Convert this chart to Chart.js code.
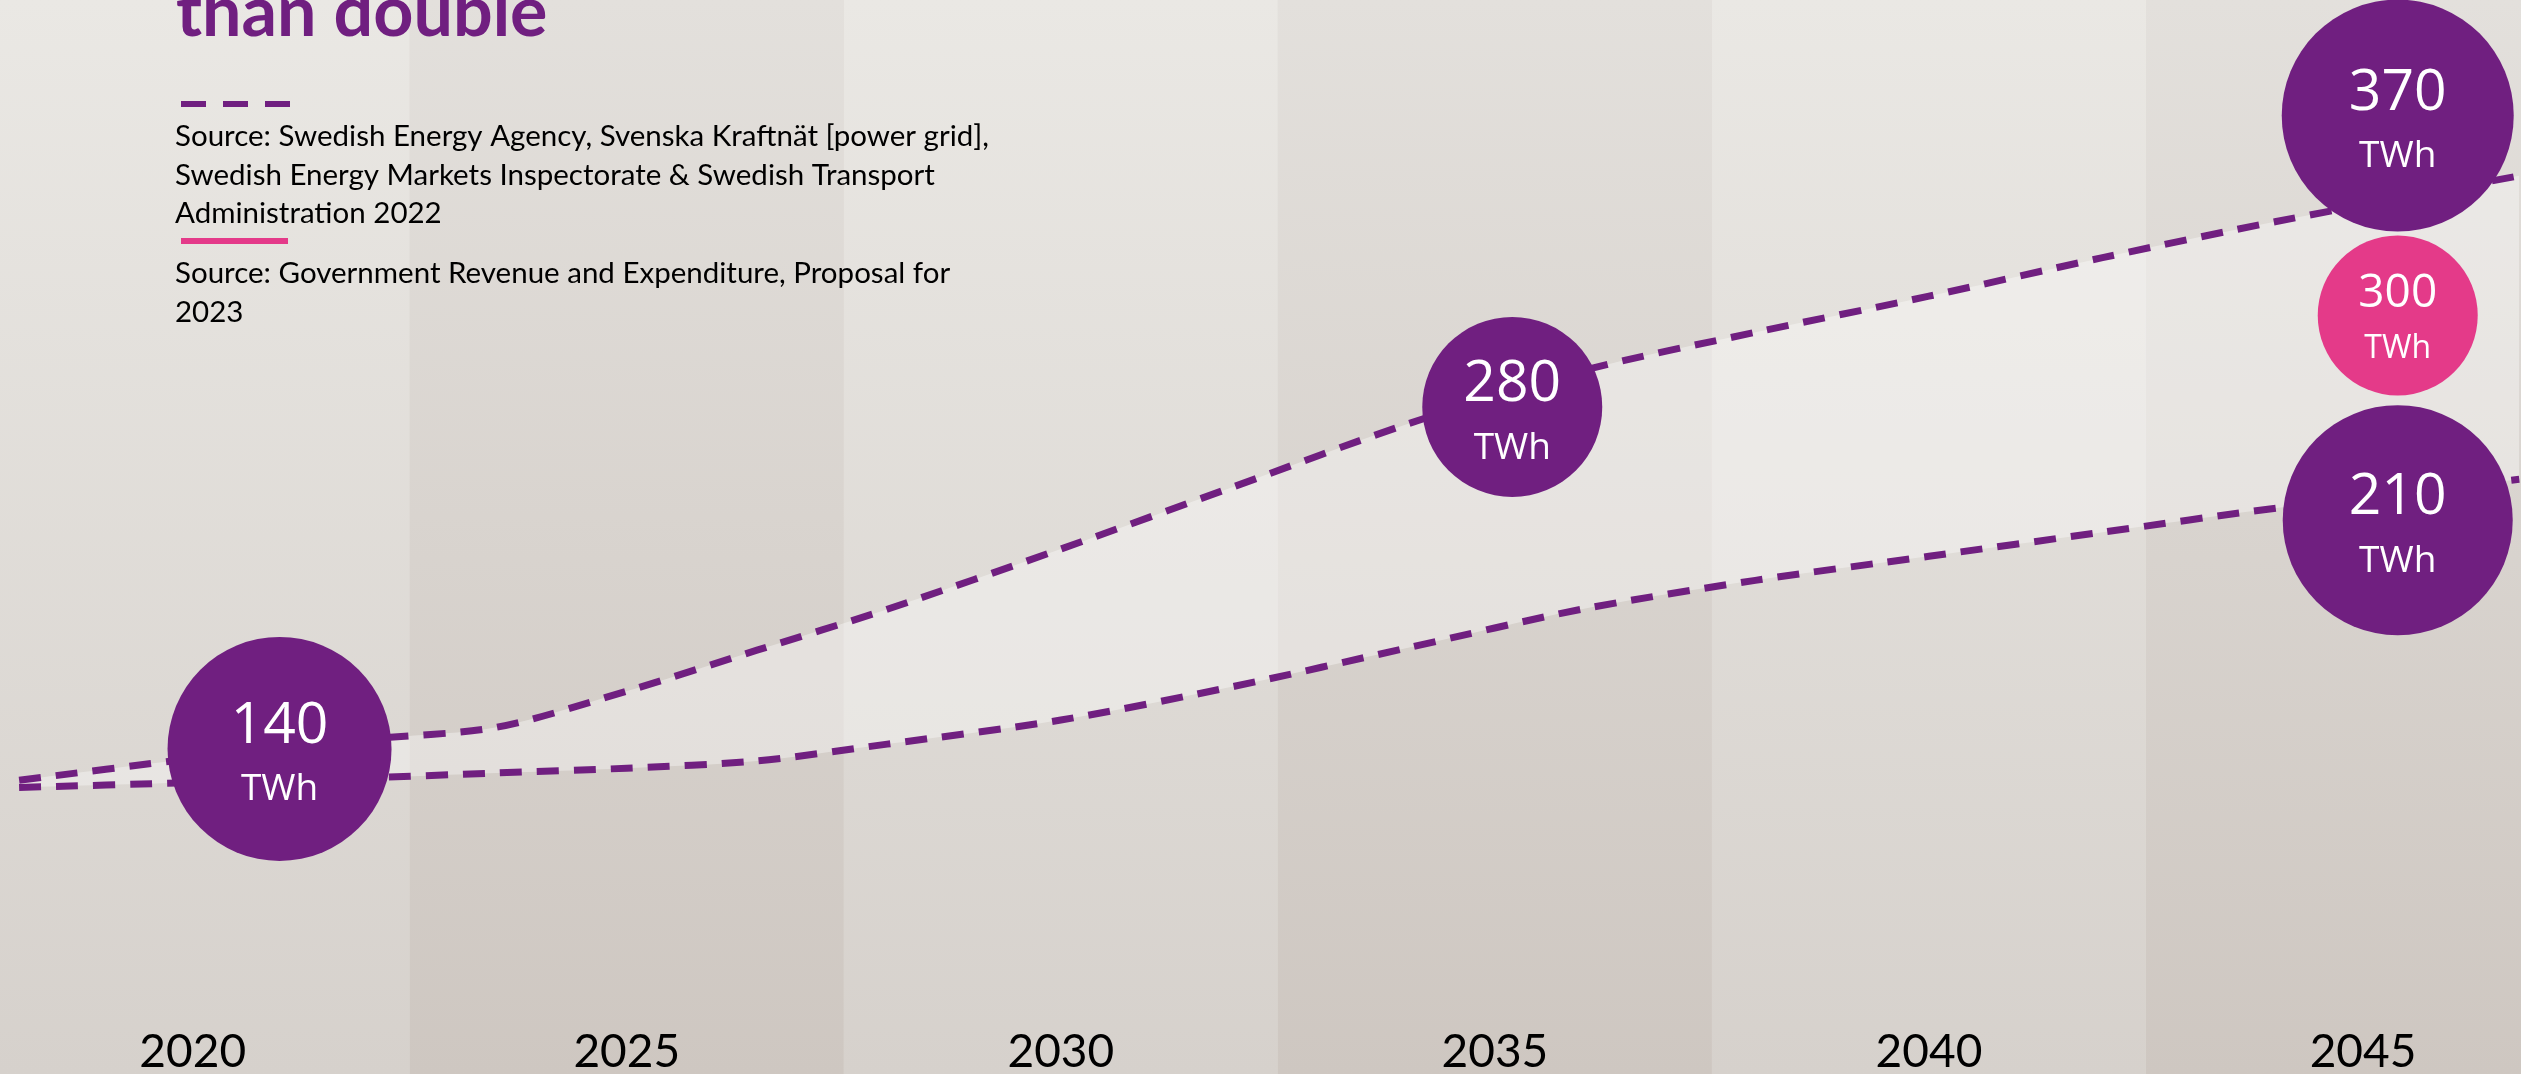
<!DOCTYPE html>
<html>
<head>
<meta charset="utf-8">
<script src="https://cdn.jsdelivr.net/npm/chart.js@4.4.1/dist/chart.umd.min.js"></script>
<style>
  html, body { margin: 0; padding: 0; background: #dcd7d2; overflow: hidden; }
</style>
</head>
<body>
<canvas id="chart" width="2521" height="1074"></canvas>
<script>
// x positions of the two projection lines (years)
const years = [2018, 2020, 2022, 2023.5, 2025, 2026.5, 2028, 2030, 2032, 2034, 2036, 2038, 2040, 2042, 2044, 2046.8];
// TWh, high and low projection (dashed purple)
const highProjection = [125, 134, 142, 147, 162, 179, 196, 221, 247, 273, 295, 311, 326, 342, 357, 376];
const lowProjection = [122, 124, 126, 128, 130, 133, 140, 150, 164, 180, 196, 208, 218, 228, 238, 250];

// year labels along the bottom
const tickYears = [2020, 2025, 2030, 2035, 2040, 2045];

// value bubbles: where they sit on the TWh axis and what they say
const purpleYears = [2021, 2035.2, 2045.4, 2045.4];
const purpleLevels = [138, 280, 401, 233];
const purpleLabels = ['140', '280', '370', '210'];
const pinkYears = [2045.4];
const pinkLevels = [318];
const pinkLabels = ['300'];

const unit = 'TWh';
const title = 'than double';
const source1 = ['Source: Swedish Energy Agency, Svenska Kraftnät [power grid],',
                 'Swedish Energy Markets Inspectorate & Swedish Transport',
                 'Administration 2022'];
const source2 = ['Source: Government Revenue and Expenditure, Proposal for', '2023'];

const PURPLE = '#701f80';
const PINK = '#e43a89';

// alternating column bands behind everything
const stripes = {
  id: 'stripes',
  beforeDraw(chart) {
    const { ctx, scales: { x } } = chart;
    tickYears.forEach((yr, i) => {
      const left = i === 0 ? 0 : x.getPixelForValue(yr - 2.5);
      const right = i === tickYears.length - 1 ? chart.width : x.getPixelForValue(yr + 2.5);
      const g = ctx.createLinearGradient(0, 0, 0, chart.height);
      if (i % 2 === 0) {
        g.addColorStop(0, '#eae8e4');
        g.addColorStop(1, '#d6d1cc');
      } else {
        g.addColorStop(0, '#e3e0dc');
        g.addColorStop(1, '#cec7c1');
      }
      ctx.fillStyle = g;
      ctx.fillRect(left, 0, right - left, chart.height);
    });
  }
};

// text inside the bubbles
const bubbleText = {
  id: 'bubbleText',
  afterDatasetsDraw(chart) {
    const ctx = chart.ctx;
    ctx.save();
    ctx.fillStyle = '#ffffff';
    ctx.textAlign = 'center';
    ctx.textBaseline = 'middle';
    const sets = [[2, purpleLabels, 57, 37, -22, 41], [3, pinkLabels, 46, 32, -22, 33]];
    sets.forEach(([idx, labels, big, small, dy1, dy2]) => {
      chart.getDatasetMeta(idx).data.forEach((pt, j) => {
        ctx.font = big + 'px "Open Sans"';
        ctx.fillText(labels[j], pt.x, pt.y + dy1);
        ctx.font = small + 'px "Open Sans"';
        ctx.fillText(unit, pt.x, pt.y + dy2);
      });
    });
    ctx.restore();
  }
};

// title, legend keys, sources and the year row
const annotations = {
  id: 'annotations',
  afterDraw(chart) {
    const { ctx, scales: { x } } = chart;
    ctx.save();
    ctx.textAlign = 'left';
    ctx.textBaseline = 'alphabetic';
    ctx.fillStyle = PURPLE;
    ctx.font = 'bold 70px Lato';
    ctx.fillText(title, 176, 36);

    // dashed key
    ctx.strokeStyle = PURPLE;
    ctx.lineWidth = 6;
    ctx.setLineDash([25, 17]);
    ctx.beginPath();
    ctx.moveTo(181, 104);
    ctx.lineTo(290, 104);
    ctx.stroke();
    // solid pink key
    ctx.setLineDash([]);
    ctx.strokeStyle = PINK;
    ctx.beginPath();
    ctx.moveTo(181, 241);
    ctx.lineTo(288, 241);
    ctx.stroke();

    ctx.fillStyle = '#000000';
    ctx.font = '29.5px Lato';
    source1.forEach((t, i) => ctx.fillText(t, 175, 146 + i * 38.5));
    source2.forEach((t, i) => ctx.fillText(t, 175, 283 + i * 38.5));

    ctx.textAlign = 'center';
    ctx.font = '46px Lato';
    tickYears.forEach(yr => ctx.fillText(String(yr), x.getPixelForValue(yr), 1067));
    ctx.restore();
  }
};

const toPoints = (xs, ys) => xs.map((v, i) => ({ x: v, y: ys[i] }));

new Chart(document.getElementById('chart').getContext('2d'), {
  data: {
    datasets: [
      {
        type: 'line',
        label: 'high',
        data: toPoints(years, highProjection),
        borderColor: PURPLE,
        borderWidth: 7,
        borderDash: [22, 15],
        pointRadius: 0,
        tension: 0.3,
        fill: '+1',
        backgroundColor: 'rgba(255,255,255,0.36)',
        order: 1
      },
      {
        type: 'line',
        label: 'low',
        data: toPoints(years, lowProjection),
        borderColor: PURPLE,
        borderWidth: 7,
        borderDash: [22, 15],
        pointRadius: 0,
        tension: 0.3,
        fill: false,
        order: 1
      },
      {
        type: 'scatter',
        label: 'purple bubbles',
        data: toPoints(purpleYears, purpleLevels),
        backgroundColor: PURPLE,
        borderWidth: 0,
        pointRadius: [112, 90, 116, 115],
        clip: false,
        order: 0
      },
      {
        type: 'scatter',
        label: 'pink bubble',
        data: toPoints(pinkYears, pinkLevels),
        backgroundColor: PINK,
        borderWidth: 0,
        pointRadius: [80],
        clip: false,
        order: 0
      }
    ]
  },
  options: {
    responsive: false,
    animation: false,
    devicePixelRatio: 1,
    events: [],
    layout: { padding: 0, autoPadding: false },
    scales: {
      x: { type: 'linear', min: 2017.78, max: 2046.82, display: false },
      y: { type: 'linear', min: 3, max: 449, display: false }
    },
    plugins: {
      legend: { display: false },
      tooltip: { enabled: false },
      filler: { drawTime: 'beforeDatasetsDraw' }
    }
  },
  plugins: [stripes, bubbleText, annotations]
});
</script>
</body>
</html>
